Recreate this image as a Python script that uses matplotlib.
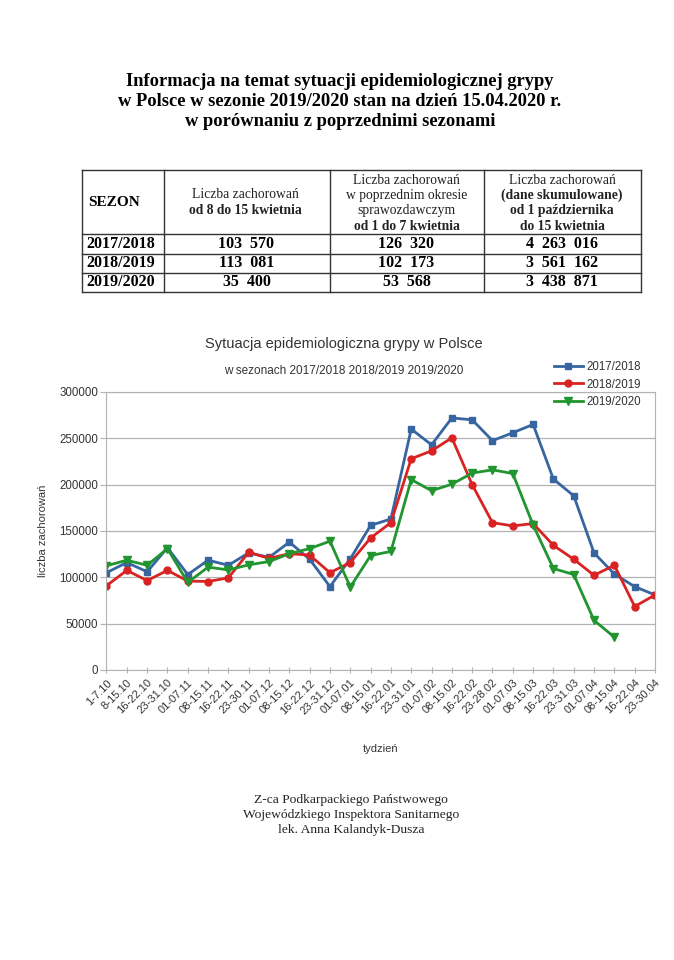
import numpy as np
import matplotlib
matplotlib.use("Agg")
import matplotlib.pyplot as plt

# --- data ---
weeks = ["1-7.10", "8-15.10", "16-22.10", "23-31.10", "01-07.11", "08-15.11",
         "16-22.11", "23-30.11", "01-07.12", "08-15.12", "16-22.12", "23-31.12",
         "01-07.01", "08-15.01", "16-22.01", "23-31.01", "01-07.02", "08-15.02",
         "16-22.02", "23-28.02", "01-07.03", "08-15.03", "16-22.03", "23-31.03",
         "01-07.04", "08-15.04", "16-22.04", "23-30.04"]

s2017 = [105000, 116000, 106000, 132000, 103000, 118500, 113000, 126500,
         121500, 138000, 119500, 90000, 120000, 156000, 163000, 260000,
         243000, 272000, 270000, 247500, 256000, 265000, 206000, 188000,
         126320, 103570, 90000, 81000]
s2018 = [91000, 107500, 96500, 107500, 96000, 95500, 99500, 127000,
         120500, 125500, 124000, 105000, 116000, 142500, 159000, 228000,
         236500, 250500, 200000, 159000, 155500, 158000, 134500, 119500,
         102173, 113081, 68500, 81000]
s2019 = [112500, 118500, 113000, 131000, 94500, 111000, 108000, 113500,
         117000, 125500, 131000, 139000, 89500, 123500, 128000, 205500,
         193500, 200500, 212500, 216000, 212000, 156500, 109500, 103000,
         53568, 35400]

seasons = ["2017/2018", "2018/2019", "2019/2020"]
col_now = ["103  570", "113  081", "35  400"]
col_prev = ["126  320", "102  173", "53  568"]
col_cum = ["4  263  016", "3  561  162", "3  438  871"]

serif = "Liberation Serif"
sans = "Liberation Sans"

fig = plt.figure(figsize=(6.74, 9.6), dpi=100)

# page layer in pixel coordinates
pg = fig.add_axes([0, 0, 1, 1])
pg.set_xlim(0, 674)
pg.set_ylim(960, 0)
pg.axis("off")

title = ["Informacja na temat sytuacji epidemiologicznej grypy",
         "w Polsce w sezonie 2019/2020 stan na dzień 15.04.2020 r.",
         "w porównaniu z poprzednimi sezonami"]
for i, t in enumerate(title):
    pg.text(340, 81 + i * 20.5, t, family=serif, weight="bold", fontsize=13.3,
            ha="center", va="center")

# table grid
xs = [81.5, 163.5, 329.5, 483.5, 640.5]
ys = [169.5, 234, 253.5, 272.5, 291.5]
for y in ys:
    pg.plot([xs[0], xs[-1]], [y, y], color="#333333", lw=1.0)
for x in xs:
    pg.plot([x, x], [ys[0], ys[-1]], color="#333333", lw=1.0)

pg.text(88, 203, "SEZON", family=serif, weight="bold", fontsize=11, va="center")
hdr = [
    (245, [("Liczba zachorowań", "normal", 195), ("od 8 do 15 kwietnia", "bold", 210.5)]),
    (406.5, [("Liczba zachorowań", "normal", 180), ("w poprzednim okresie", "normal", 195),
             ("sprawozdawczym", "normal", 210.5), ("od 1 do 7 kwietnia", "bold", 226.5)]),
    (562, [("Liczba zachorowań", "normal", 180), ("(dane skumulowane)", "bold", 195),
           ("od 1 października", "bold", 210.5), ("do 15 kwietnia", "bold", 226.5)]),
]
for cx, lines in hdr:
    for txt, w, y in lines:
        pg.text(cx, y, txt, family=serif, weight=w, fontsize=9.8, ha="center",
                va="center", color="#222222")

for i in range(3):
    y = (ys[i + 1] + ys[i + 2]) / 2
    pg.text(86, y, seasons[i], family=serif, weight="bold", fontsize=11.5, va="center")
    pg.text(246.5, y, col_now[i], family=serif, weight="bold", fontsize=11.5,
            ha="center", va="center")
    pg.text(406.5, y, col_prev[i], family=serif, weight="bold", fontsize=11.5,
            ha="center", va="center")
    pg.text(562, y, col_cum[i], family=serif, weight="bold", fontsize=11.5,
            ha="center", va="center")

# footer
footer = ["Z-ca Podkarpackiego Państwowego",
          "Wojewódzkiego Inspektora Sanitarnego",
          "lek. Anna Kalandyk-Dusza"]
for i, t in enumerate(footer):
    pg.text(351, 800 + i * 15, t, family=serif, fontsize=9.7, ha="center",
            va="center", color="#222222")

# chart
ax = fig.add_axes([106.5 / 674, 1 - 670 / 960, (655 - 106.5) / 674, (670 - 392) / 960])
x = np.arange(len(weeks))
ax.plot(x, s2017, color="#37659f", lw=2, marker="s", ms=5, label="2017/2018")
ax.plot(x, s2018, color="#d92323", lw=2, marker="o", ms=5, label="2018/2019")
ax.plot(np.arange(len(s2019)), s2019, color="#21952f", lw=2, marker="v", ms=5.5,
        label="2019/2020")

ax.set_xlim(0, len(weeks) - 1)
ax.set_ylim(0, 300000)
ax.set_yticks(np.arange(0, 300001, 50000))
ax.set_xticks(x)
ax.set_xticklabels(weeks, rotation=45, ha="right", rotation_mode="anchor",
                   family=sans, fontsize=8, color="#333333")
for lab in ax.get_yticklabels():
    lab.set_family(sans)
    lab.set_fontsize(8.3)
    lab.set_color("#333333")
ax.grid(axis="y", color="#b3b3b3", lw=0.9)
ax.set_axisbelow(True)
for sp in ax.spines.values():
    sp.set_color("#b3b3b3")
ax.tick_params(axis="x", direction="inout", length=5, color="#b3b3b3", pad=3)
ax.tick_params(axis="y", direction="out", length=4, color="#b3b3b3", pad=2)

ax.set_xlabel("tydzień", family=sans, fontsize=8, color="#333333", labelpad=20)
ax.set_ylabel("liczba zachorowań", family=sans, fontsize=8, color="#333333",
              labelpad=8)

fig.text(344 / 674, 1 - 344 / 960, "Sytuacja epidemiologiczna grypy w Polsce",
         family=sans, fontsize=10.5, ha="center", va="center", color="#333333")
fig.text(344 / 674, 1 - 371.5 / 960, "w sezonach 2017/2018 2018/2019 2019/2020",
         family=sans, fontsize=8.5, ha="center", va="center", color="#333333")

ax.legend(loc="upper left", bbox_to_anchor=(548 / 674, 1 - 355 / 960),
          bbox_transform=fig.transFigure, frameon=False, prop={"family": sans, "size": 8.3},
          handlelength=2.5, handletextpad=0.3, labelspacing=0.5, borderpad=0,
          labelcolor="#333333")

fig.savefig("out.png", dpi=100, facecolor="white")
